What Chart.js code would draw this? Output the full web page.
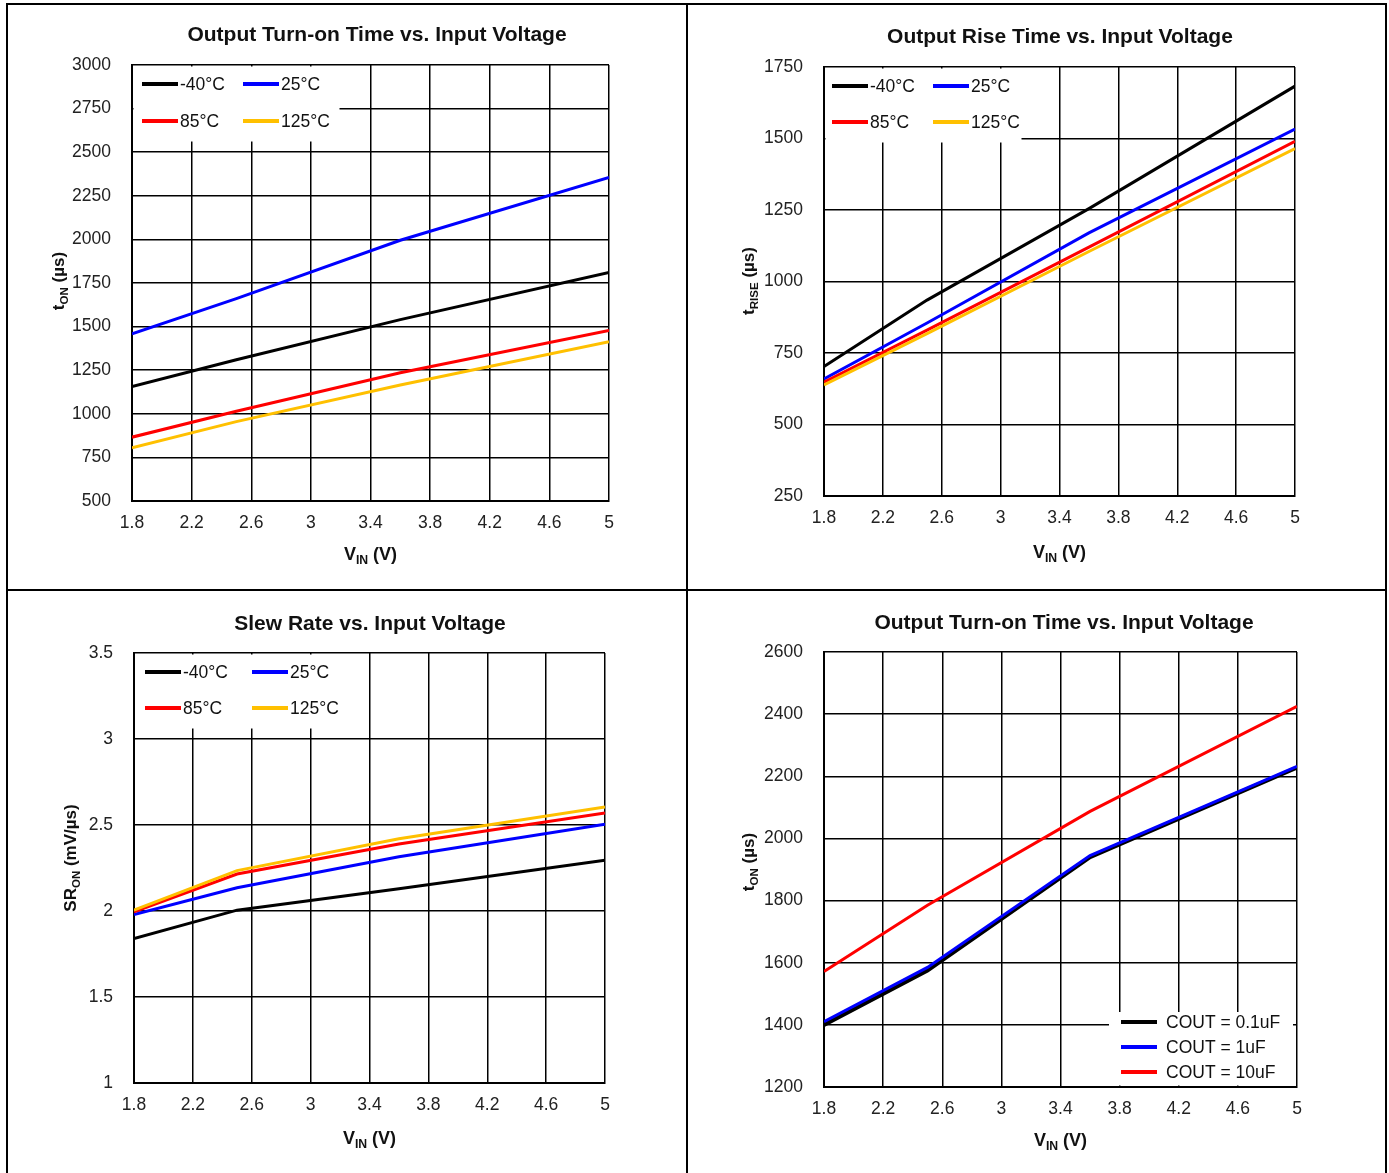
<!DOCTYPE html>
<html>
<head>
<meta charset="utf-8">
<script src="https://cdn.jsdelivr.net/npm/chart.js@4.4.1/dist/chart.umd.min.js"></script>
<style>
  html, body { margin: 0; padding: 0; background: #fff; }
  body { width: 1389px; height: 1173px; position: relative; overflow: hidden; }
  .frame { position: absolute; left: 6px; top: 3px; width: 1377px; height: 1172px; border: 2px solid #000; border-bottom: none; }
  .vline { position: absolute; left: 686px; top: 3px; width: 2px; height: 1170px; background: #000; }
  .hline { position: absolute; left: 6px; top: 589px; width: 1381px; height: 2px; background: #000; }
  .cell { position: absolute; }
</style>
</head>
<body>
<div class="frame"></div>
<div class="vline"></div>
<div class="hline"></div>
<div class="cell" style="left:8px;top:5px;width:678px;height:584px"><canvas id="chart1"></canvas></div>
<div class="cell" style="left:688px;top:5px;width:697px;height:584px"><canvas id="chart2"></canvas></div>
<div class="cell" style="left:8px;top:591px;width:678px;height:582px"><canvas id="chart3"></canvas></div>
<div class="cell" style="left:688px;top:591px;width:697px;height:582px"><canvas id="chart4"></canvas></div>
<script>
// input voltage points (V)
const vin = [1.8, 2.5, 3.6, 5];
const xTicks = [1.8, 2.2, 2.6, 3, 3.4, 3.8, 4.2, 4.6, 5];
const tempLabels = ['-40°C', '25°C', '85°C', '125°C'];
const coutLabels = ['COUT = 0.1uF', 'COUT = 1uF', 'COUT = 10uF'];

// Output turn-on time (us)
const tonM40 = [1156, 1310, 1540, 1810];
const ton25 = [1458, 1660, 1995, 2355];
const ton85 = [866, 1015, 1235, 1478];
const ton125 = [805, 955, 1165, 1413];

// Output rise time (us)
const riseM40 = [703, 935, 1255, 1683];
const rise25 = [659, 855, 1170, 1533];
const rise85 = [648, 830, 1120, 1490];
const rise125 = [638, 818, 1105, 1465];

// Slew rate (mV/us)
const srM40 = [1.84, 2.005, 2.13, 2.295];
const sr25 = [1.98, 2.135, 2.315, 2.505];
const sr85 = [1.995, 2.215, 2.39, 2.57];
const sr125 = [2.005, 2.235, 2.42, 2.605];

// Turn-on time vs output capacitor (us)
const tonC01 = [1400, 1575, 1940, 2228];
const tonC1 = [1410, 1585, 1945, 2232];
const tonC10 = [1572, 1785, 2087, 2425];

const tempColors = ['#000000', '#0000ff', '#ff0000', '#ffc000'];
const coutColors = ['#000000', '#0000ff', '#ff0000'];
const FONT = '"Liberation Sans", Arial, sans-serif';

// text with subscript parts: [[text, isSub], ...], centred on x, baseline y
function drawRich(ctx, parts, x, y, size) {
    const fonts = parts.map(p => 'bold ' + (p[1] ? size * 0.68 : size) + 'px ' + FONT);
    let total = 0;
    const widths = parts.map((p, i) => {
        ctx.font = fonts[i];
        const w = ctx.measureText(p[0]).width;
        total += w;
        return w;
    });
    let cx = x - total / 2;
    ctx.textAlign = 'left';
    ctx.textBaseline = 'alphabetic';
    parts.forEach((p, i) => {
        ctx.font = fonts[i];
        ctx.fillText(p[0], cx, y + (p[1] ? size * 0.22 : 0));
        cx += widths[i];
    });
}

const overlay = {
    id: 'overlay',
    beforeDatasetsDraw(chart, args, opts) {
        const ctx = chart.ctx;
        const a = chart.chartArea;
        const lg = opts.legend;
        ctx.save();
        ctx.fillStyle = '#fff';
        ctx.fillRect(a.left + lg.x, a.top + lg.y, lg.w, lg.h);
        ctx.font = '17.5px ' + FONT;
        ctx.textBaseline = 'middle';
        ctx.textAlign = 'left';
        chart.data.datasets.forEach((ds, i) => {
            const x = a.left + lg.pos[i][0];
            const y = a.top + lg.pos[i][1];
            ctx.strokeStyle = ds.borderColor;
            ctx.lineWidth = 4;
            ctx.beginPath();
            ctx.moveTo(x, y);
            ctx.lineTo(x + lg.len, y);
            ctx.stroke();
            ctx.fillStyle = '#111';
            ctx.fillText(ds.label, x + lg.len + lg.gap, y + 1);
        });
        ctx.restore();
    },
    afterDraw(chart, args, opts) {
        const ctx = chart.ctx;
        const a = chart.chartArea;
        ctx.save();
        ctx.fillStyle = '#111';
        ctx.font = 'bold 21px ' + FONT;
        ctx.textAlign = 'center';
        ctx.textBaseline = 'middle';
        ctx.fillText(opts.title, opts.titleX, opts.titleY);
        drawRich(ctx, [['V', false], ['IN', true], [' (V)', false]], (a.left + a.right) / 2, opts.xTitleY, 18);
        ctx.translate(opts.yTitleX, opts.yTitleY);
        ctx.rotate(-Math.PI / 2);
        drawRich(ctx, opts.yTitle, 0, 6, 17);
        ctx.restore();
    }
};

function makeChart(id, series, labels, colors, yMin, yMax, yStep, box, ov) {
    const w = document.getElementById(id).parentNode;
    const W = w.clientWidth, H = w.clientHeight;
    return new Chart(document.getElementById(id), {
        type: 'line',
        data: {
            datasets: series.map((s, i) => ({
                label: labels[i],
                data: vin.map((v, k) => ({ x: v, y: s[k] })),
                borderColor: colors[i],
                backgroundColor: colors[i],
                borderWidth: ov.widths ? ov.widths[i] : 3,
                pointRadius: 0,
                tension: 0,
                order: series.length - i
            }))
        },
        options: {
            responsive: true,
            maintainAspectRatio: false,
            animation: false,
            layout: {
                padding: { left: box[0] - 60, top: box[1], right: W - box[2], bottom: H - box[3] - 50 }
            },
            scales: {
                x: {
                    type: 'linear',
                    min: 1.8,
                    max: 5,
                    afterBuildTicks: s => { s.ticks = xTicks.map(v => ({ value: v })); },
                    afterFit: s => { s.height = 50; },
                    ticks: {
                        padding: 12,
                        color: '#222',
                        font: { family: FONT, size: 17.5 },
                        callback: v => String(+v.toFixed(1))
                    },
                    grid: { color: '#000', lineWidth: 1.5, drawTicks: false },
                    border: { color: '#000', width: 2 }
                },
                y: {
                    min: yMin,
                    max: yMax,
                    afterFit: s => { s.width = 60; },
                    ticks: {
                        stepSize: yStep,
                        padding: 21,
                        color: '#222',
                        font: { family: FONT, size: 17.5 },
                        callback: v => String(v)
                    },
                    grid: { color: '#000', lineWidth: 1.5, drawTicks: false },
                    border: { color: '#000', width: 2 }
                }
            },
            plugins: {
                legend: { display: false },
                tooltip: { enabled: false },
                overlay: ov
            }
        },
        plugins: [overlay]
    });
}

const tempLegend = (w, h, c2, rows) => ({
    x: 1.5, y: 1.5, w: w, h: h, len: 36, gap: 2,
    pos: [[c2[0], rows[0]], [c2[1], rows[0]], [c2[0], rows[1]], [c2[1], rows[1]]]
});

makeChart('chart1', [tonM40, ton25, ton85, ton125], tempLabels, tempColors, 500, 3000, 250,
    [124, 60, 601, 496], {
        title: 'Output Turn-on Time vs. Input Voltage', titleX: 369, titleY: 30,
        xTitleY: 555, yTitleX: 50, yTitleY: 276,
        yTitle: [['t', false], ['ON', true], [' (µs)', false]],
        legend: tempLegend(206, 75, [10, 111], [19, 56])
    });

makeChart('chart2', [riseM40, rise25, rise85, rise125], tempLabels, tempColors, 250, 1750, 250,
    [136, 62, 607, 491], {
        title: 'Output Rise Time vs. Input Voltage', titleX: 372, titleY: 32,
        xTitleY: 553, yTitleX: 60, yTitleY: 276,
        yTitle: [['t', false], ['RISE', true], [' (µs)', false]],
        legend: tempLegend(196, 74, [8, 109], [19, 55])
    });

makeChart('chart3', [srM40, sr25, sr85, sr125], tempLabels, tempColors, 1, 3.5, 0.5,
    [126, 62, 597, 492], {
        title: 'Slew Rate vs. Input Voltage', titleX: 362, titleY: 33,
        xTitleY: 553, yTitleX: 62, yTitleY: 267,
        yTitle: [['SR', false], ['ON', true], [' (mV/µs)', false]],
        legend: tempLegend(213, 74, [11, 118], [19, 55])
    });

makeChart('chart4', [tonC01, tonC1, tonC10], coutLabels, coutColors, 1200, 2600, 200,
    [136, 61, 609, 496], {
        title: 'Output Turn-on Time vs. Input Voltage', titleX: 376, titleY: 32,
        xTitleY: 555, yTitleX: 60, yTitleY: 271,
        yTitle: [['t', false], ['ON', true], [' (µs)', false]],
        widths: [4, 3, 3],
        legend: {
            x: 285, y: 360, w: 184, h: 73.5, len: 36, gap: 9,
            pos: [[297, 370], [297, 395], [297, 420]]
        }
    });
</script>
</body>
</html>
